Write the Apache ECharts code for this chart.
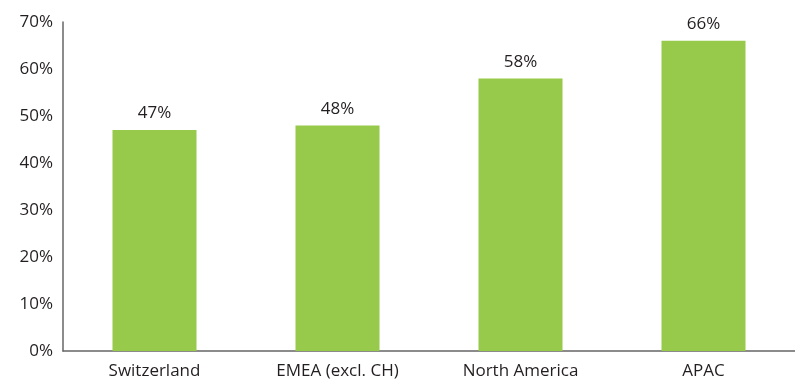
<!DOCTYPE html>
<html>
<head>
<meta charset="utf-8">
<script src="https://cdn.jsdelivr.net/npm/echarts@6/dist/echarts.min.js"></script>
<style>
  html, body { margin: 0; padding: 0; background: #fff; }
  #chart { width: 795px; height: 381px; }
</style>
</head>
<body>
<div id="chart"></div>
<script>
// Share by region, in percent
const regions = ['Switzerland', 'EMEA (excl. CH)', 'North America', 'APAC'];
const shares = [47, 48, 58, 66];
const yTicks = { min: 0, max: 70, interval: 10 };

const chart = echarts.init(document.getElementById('chart'), null, { renderer: 'canvas' });
const font = '"Open Sans", "Noto Sans", sans-serif';
const textColor = '#231f20';

chart.setOption({
  animation: false,
  grid: { left: 63, top: 22, bottom: 30, width: 743 },
  xAxis: {
    type: 'category',
    data: regions,
    axisLine: { lineStyle: { color: '#666', width: 1.5 } },
    axisTick: { show: false },
    axisLabel: { color: textColor, fontSize: 17, fontFamily: font, margin: 12 }
  },
  yAxis: {
    type: 'value',
    min: yTicks.min,
    max: yTicks.max,
    interval: yTicks.interval,
    axisLine: { show: true, lineStyle: { color: '#666', width: 1.5 } },
    axisTick: { show: false },
    splitLine: { show: false },
    axisLabel: { color: textColor, fontSize: 17, fontFamily: font, margin: 10, formatter: '{value}%' }
  },
  series: [{
    type: 'bar',
    data: shares,
    barWidth: 84,
    itemStyle: { color: '#97c94b' },
    label: {
      show: true,
      position: 'top',
      distance: 8,
      color: textColor,
      fontSize: 17,
      fontFamily: font,
      formatter: '{c}%'
    }
  }]
});
</script>
</body>
</html>
